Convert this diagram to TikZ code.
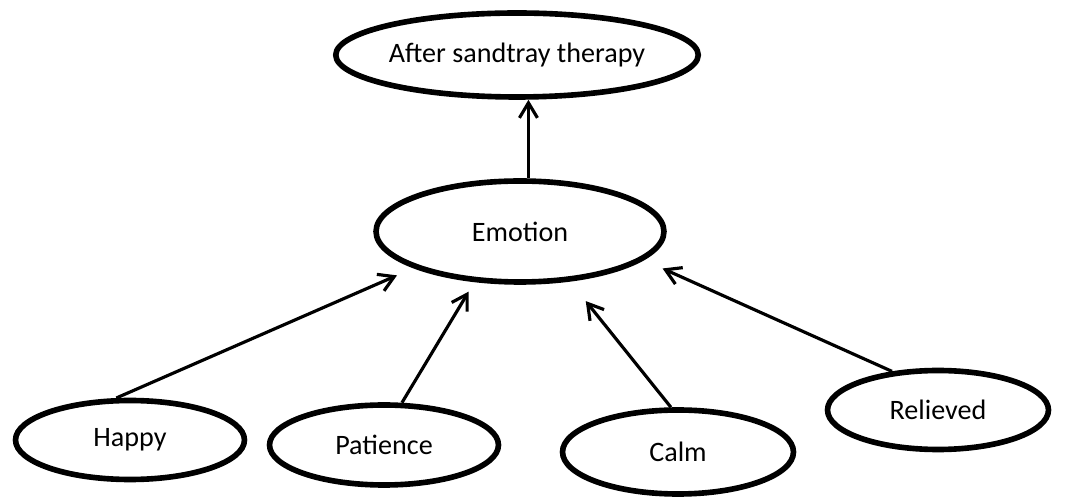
\documentclass[tikz,border=0pt]{standalone}
\usepackage{fontspec}
\setmainfont{Carlito}
\usepackage{tikz}
\usetikzlibrary{shapes,arrows.meta,positioning}

\begin{document}
\begin{tikzpicture}
      [x=0.02cm, y=-0.02cm,
      oval style/.style={draw, ellipse, line width=3.2pt, inner sep=0pt, font=\fontsize{16}{19}\selectfont},
      link style/.style={draw, line width=1.8pt, -{Straight Barb[length=3mm,width=3.6mm]}}
      ]
      \useasboundingbox (0,0) rectangle (1068,499);

      \node[oval style, minimum width=6.78cm, minimum height=1.68cm] (after) at (517,55) {After sandtray therapy};
      \node[oval style, minimum width=5.76cm, minimum height=2.02cm] (emotion) at (520,231.5) {Emotion};

      \node[oval style, minimum width=4.58cm, minimum height=1.58cm] (happy) at (130,440) {Happy};
      \node[oval style, minimum width=4.58cm, minimum height=1.6cm] (patience) at (384,445) {Patience};
      \node[oval style, minimum width=4.62cm, minimum height=1.68cm] (calm) at (678,452) {Calm};
      \node[oval style, minimum width=4.42cm, minimum height=1.58cm] (relieved) at (938,410) {Relieved};

      \draw[link style] (emotion.81) -- (emotion.81 |- after.south);
      \draw[link style, shorten >=0.36cm] (happy.108) -- (emotion.199);
      \draw[link style, shorten >=0.22cm] (patience.67) -- (emotion.228);
      \draw[link style, shorten >=0.5cm] (calm.99) -- (emotion.315);
      \draw[link style, shorten >=0.41cm] (relieved.140) -- (emotion.-13.5);
\end{tikzpicture}
\end{document}
